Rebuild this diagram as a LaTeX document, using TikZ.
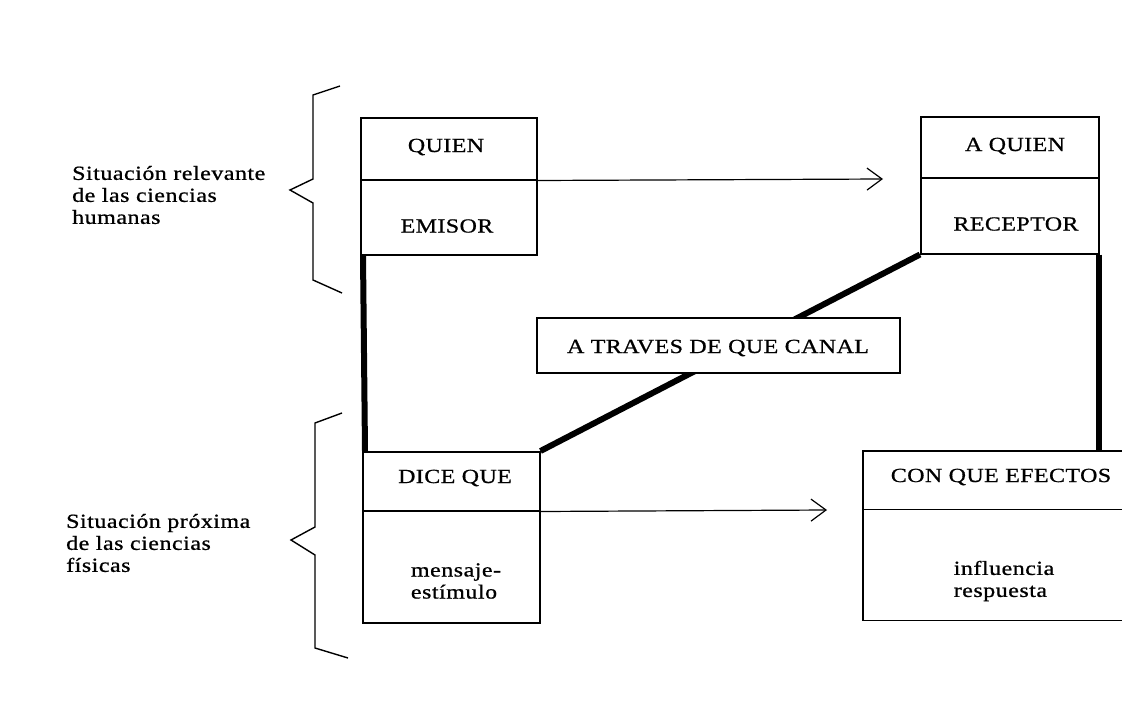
\documentclass[tikz,border=0pt]{standalone}
\usepackage{fontspec}
\setmainfont{Liberation Serif}[FakeStretch=1.2, LetterSpace=2.5, FakeBold=0.8]
\newfontfamily\capsfont{Liberation Serif}[FakeStretch=1.2, LetterSpace=2, FakeBold=0.8]
\usetikzlibrary{arrows.meta}
\begin{document}
\begin{tikzpicture}[x=1pt,y=-1pt,
  box/.style={draw, line width=1.5pt, anchor=north west, inner sep=0, fill=white},
  txt/.style={font=\fontsize{20}{22}\selectfont, inner sep=0},
  ctxt/.style={font=\capsfont\fontsize{20}{22}\selectfont, inner sep=0},
  side/.style={txt, align=left, anchor=west},
  link/.style={line width=6pt},
  arr/.style={line width=1.2pt, -{Straight Barb[length=15pt,width=22pt,line width=1.2pt]}},
  brace/.style={line width=1.4pt, line join=miter}]
\path[use as bounding box, fill=white] (0,0) rectangle (1122,712);

% upper brace and label
\draw[brace] (340,86) -- (313,95) -- (313,179) -- (290,190) -- (313,203) -- (313,280) -- (342,293);
\node[side] (lab1) at (72,195) {Situación relevante\\de las ciencias\\humanas};
% lower brace and label
\draw[brace] (342,413) -- (315,423) -- (315,527) -- (291,540) -- (315,555) -- (315,648) -- (348,658);
\node[side] (lab2) at (66,543) {Situación próxima\\de las ciencias\\físicas};

% boxes
\node[box, minimum width=176pt, minimum height=62pt] (quien) at (360,117) {};
\node[box, minimum width=176pt, minimum height=75pt] (emisor) at (360,179) {};
\node[box, minimum width=178pt, minimum height=61pt] (aquien) at (920,116) {};
\node[box, minimum width=178pt, minimum height=76pt] (receptor) at (920,177) {};
\node[box, minimum width=177pt, minimum height=59pt] (dice) at (362,451) {};
\node[box, minimum width=177pt, minimum height=112pt] (mensaje) at (362,510) {};
\node[anchor=north west, inner sep=0, minimum width=259pt, minimum height=58pt] (efectos) at (863,451) {};
\node[anchor=north west, inner sep=0, minimum width=259pt, minimum height=111pt] (influ) at (863,509) {};
\draw[line width=1.5pt] (efectos.north east) -- (efectos.north west) -- (influ.south west) -- (influ.south east);
\draw[line width=1.5pt] (efectos.south west) -- (efectos.south east);

% thick links
\draw[link] ([xshift=3pt]emisor.south west) -- ([xshift=3pt]dice.north west);
\draw[link] (dice.north east) -- (receptor.south west);
\draw[link] ([xshift=-1pt]receptor.south east) -- ([xshift=-1pt]receptor.south east |- efectos.north);

% channel box on top of the diagonal
\node[box, minimum width=363pt, minimum height=55pt] (canal) at (536,317) {};

% arrows
\coordinate (t1) at (883,179);
\coordinate (t2) at (827,510);
\draw[arr] (quien.south east) -- (t1);
\draw[arr] (dice.south east) -- (t2);

% texts
\node[ctxt] (tquien) at (446,147) {QUIEN};
\node[ctxt] (temisor) at (447,226) {EMISOR};
\node[ctxt] (taquien) at (1015,146) {A QUIEN};
\node[ctxt] (treceptor) at (1016,224) {RECEPTOR};
\node[ctxt] (tcanal) at (718,348) {A TRAVES DE QUE CANAL};
\node[ctxt] (tdice) at (455,478) {DICE QUE};
\node[ctxt] (tefectos) at (1001,477) {CON QUE EFECTOS};
\node[txt, align=left] (tmensaje) at (456,581) {mensaje-\\estímulo};
\node[txt, align=left] (tinflu) at (1004,581) {influencia\\respuesta};
\end{tikzpicture}
\end{document}
